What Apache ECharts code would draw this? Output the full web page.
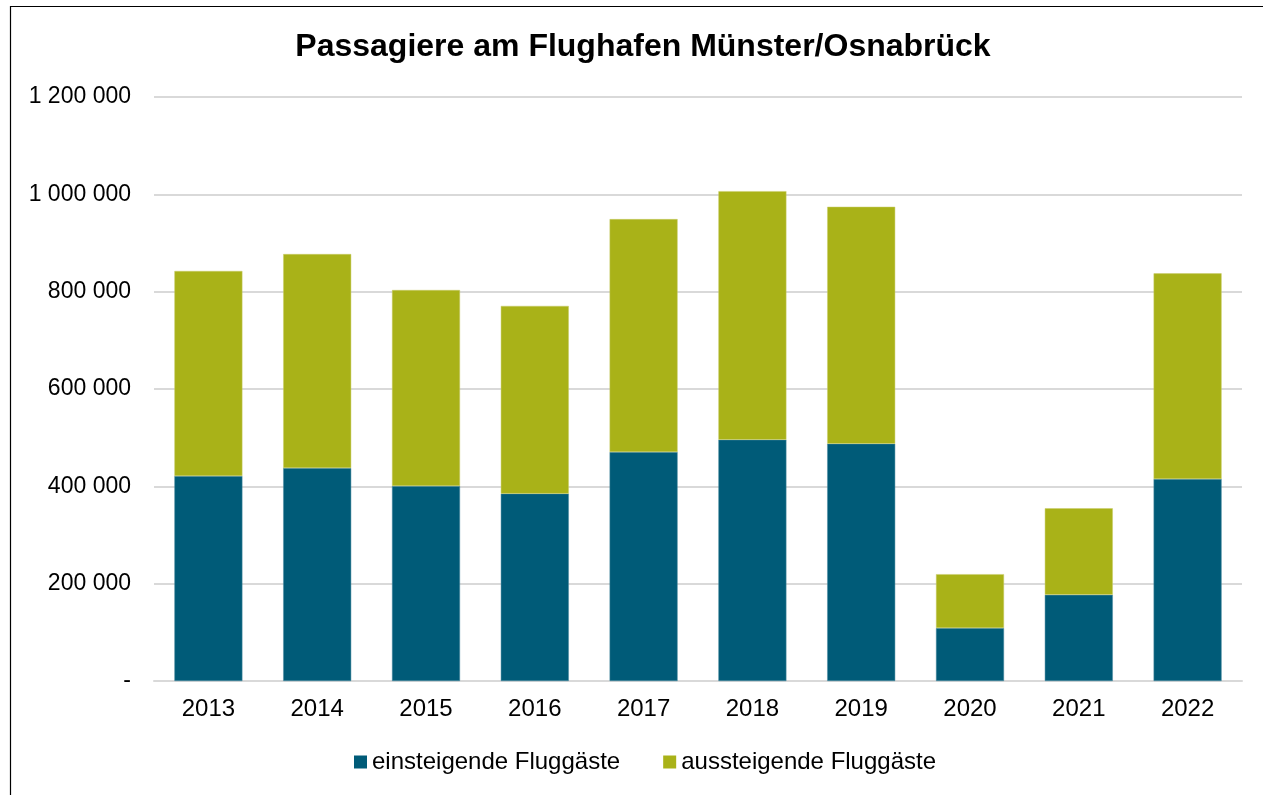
<!DOCTYPE html>
<html>
<head>
<meta charset="utf-8">
<title>Passagiere am Flughafen Münster/Osnabrück</title>
<script src="https://cdn.jsdelivr.net/npm/echarts@6/dist/echarts.min.js"></script>
<style>
  html, body { margin: 0; padding: 0; background: #fff; }
  #chart { width: 1263px; height: 795px; }
</style>
</head>
<body>
<div id="chart"></div>
<script>
// Jahre
const years = ['2013', '2014', '2015', '2016', '2017', '2018', '2019', '2020', '2021', '2022'];
// einsteigende Fluggäste
const einsteigend = [421100, 437500, 400600, 385000, 470400, 495700, 487500, 108700, 177000, 415000];
// aussteigende Fluggäste
const aussteigend = [421400, 439800, 402800, 385700, 478700, 510800, 486900, 110800, 177900, 422600];
// Achsenwerte
const yMax = 1200000;
const yStep = 200000;

const chart = echarts.init(document.getElementById('chart'));

// Tausender mit Leerzeichen, 0 als "-"
function fmt(v) {
  if (v === 0) return '-';
  return String(v).replace(/\B(?=(\d{3})+(?!\d))/g, ' ');
}

chart.setOption({
  animation: false,
  textStyle: { fontFamily: 'Liberation Sans, Arial, sans-serif' },
  title: {
    text: 'Passagiere am Flughafen Münster/Osnabrück',
    left: 638,
    top: 26,
    textAlign: 'center',
    textStyle: { fontSize: 32, fontWeight: 'bold', color: '#000' }
  },
  grid: { left: 154, right: 21, top: 97, bottom: 114, containLabel: false },
  legend: {
    data: ['einsteigende Fluggäste', 'aussteigende Fluggäste'],
    left: 349,
    top: 745,
    itemWidth: 13,
    itemHeight: 13,
    itemGap: 43,
    icon: 'rect',
    itemStyle: { borderWidth: 0 },
    textStyle: { fontSize: 24, color: '#000' }
  },
  xAxis: {
    type: 'category',
    data: years,
    axisLine: { lineStyle: { color: '#d9d9d9', width: 2 } },
    axisTick: { show: false },
    axisLabel: { fontSize: 24, color: '#000', margin: 16 }
  },
  yAxis: {
    type: 'value',
    min: 0,
    max: yMax,
    interval: yStep,
    axisLine: { show: false },
    axisTick: { show: false },
    axisLabel: { fontSize: 23, color: '#000', margin: 23, formatter: fmt },
    splitLine: { lineStyle: { color: '#d9d9d9', width: 2 } }
  },
  series: [
    {
      name: 'einsteigende Fluggäste',
      type: 'bar',
      stack: 'pax',
      data: einsteigend,
      barWidth: '62.5%',
      itemStyle: { color: '#005b78', borderColor: '#4d8ca0', borderWidth: 0.5 }
    },
    {
      name: 'aussteigende Fluggäste',
      type: 'bar',
      stack: 'pax',
      data: aussteigend,
      barWidth: '62.5%',
      itemStyle: { color: '#a9b218', borderColor: '#c8cd6a', borderWidth: 0.5 }
    }
  ],
  graphic: [{
    type: 'rect',
    shape: { x: 10.5, y: 6.5, width: 1400, height: 900 },
    style: { fill: 'none', stroke: '#000', lineWidth: 1.2 },
    silent: true
  }]
});
</script>
</body>
</html>
